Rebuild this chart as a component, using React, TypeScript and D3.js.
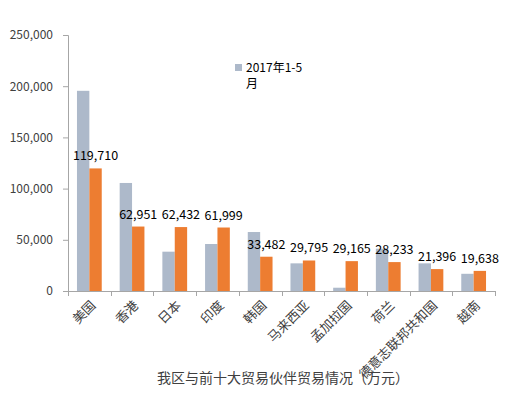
import React, { useRef, useEffect } from "react"
import * as d3 from "d3"

const categories = ["美国", "香港", "日本", "印度", "韩国", "马来西亚", "孟加拉国", "荷兰", "德意志联邦共和国", "越南"]
const series2017 = [195500, 105500, 38400, 45900, 57600, 27000, 3200, 41300, 27000, 16800]
const seriesOther = [119710, 62951, 62432, 61999, 33482, 29795, 29165, 28233, 21396, 19638]
const yTicks = [0, 50000, 100000, 150000, 200000, 250000]
const legendLabel = ["2017年1-5", "月"]
const title = "我区与前十大贸易伙伴贸易情况（万元）"

const W = 522
const H = 394
const FONT = "'Noto Sans CJK SC', 'Noto Sans', sans-serif"

const App: React.FunctionComponent = () => {
	const svgRef = useRef<any>()

	useEffect(() => {
		const svg = d3.select(svgRef.current)
		svg.selectAll("*").remove()

		const left = 68
		const right = 495
		const top = 35
		const bottom = 291

		const x0 = d3.scaleBand<string>().domain(categories).range([left, right]).padding(0)
		const bw = x0.bandwidth()
		const x1 = d3
			.scaleBand<string>()
			.domain(["a", "b"])
			.range([bw * 0.21, bw * 0.79])
			.padding(0)
		const y = d3.scaleLinear().domain([0, 250000]).range([bottom, top])

		// y axis
		const yAxis = d3
			.axisLeft(y)
			.tickValues(yTicks)
			.tickSize(5)
			.tickPadding(10)
			.tickFormat((d) => d3.format(",")(d as number))
		const gy = svg.append("g").attr("transform", `translate(${left},0)`).call(yAxis)
		gy.select(".domain").attr("stroke", "#a6a6a6")
		gy.selectAll(".tick line").attr("stroke", "#a6a6a6")
		gy.selectAll(".tick text")
			.attr("font-family", FONT)
			.attr("font-size", 12)
			.attr("fill", "#404040")

		// x axis
		const xTicks = d3.range(categories.length + 1).map((i) => left + i * bw)
		svg.append("line")
			.attr("x1", left)
			.attr("x2", right)
			.attr("y1", bottom + 0.5)
			.attr("y2", bottom + 0.5)
			.attr("stroke", "#a6a6a6")
		svg.selectAll(".xt")
			.data(xTicks)
			.join("line")
			.attr("x1", (d) => Math.round(d) + 0.5)
			.attr("x2", (d) => Math.round(d) + 0.5)
			.attr("y1", bottom)
			.attr("y2", bottom + 5)
			.attr("stroke", "#a6a6a6")

		// bars
		const g = svg.append("g")
		g.selectAll(".b1")
			.data(series2017)
			.join("rect")
			.attr("x", (d, i) => x0(categories[i])! + x1("a")!)
			.attr("y", (d) => y(d))
			.attr("width", x1.bandwidth())
			.attr("height", (d) => bottom - y(d))
			.attr("fill", "#adb9ca")
		g.selectAll(".b2")
			.data(seriesOther)
			.join("rect")
			.attr("x", (d, i) => x0(categories[i])! + x1("b")!)
			.attr("y", (d) => y(d))
			.attr("width", x1.bandwidth())
			.attr("height", (d) => bottom - y(d))
			.attr("fill", "#ed7d31")

		// value labels
		g.selectAll(".lbl")
			.data(seriesOther)
			.join("text")
			.attr("x", (d, i) => x0(categories[i])! + x1("b")! + x1.bandwidth() / 2)
			.attr("y", (d) => y(d) - 8)
			.attr("text-anchor", "middle")
			.attr("font-family", FONT)
			.attr("font-size", 12.5)
			.attr("fill", "#000")
			.text((d) => d3.format(",")(d))

		// category labels
		svg.selectAll(".cat")
			.data(categories)
			.join("text")
			.attr("transform", (d) => `translate(${x0(d)! + bw / 2 + 4},${bottom + 12}) rotate(-45)`)
			.attr("text-anchor", "end")
			.attr("dy", "0.35em")
			.attr("font-family", FONT)
			.attr("font-size", 13)
			.attr("fill", "#404040")
			.text((d) => d)

		// legend
		svg.append("rect").attr("x", 235).attr("y", 64).attr("width", 7).attr("height", 7).attr("fill", "#adb9ca")
		svg.selectAll(".leg")
			.data(legendLabel)
			.join("text")
			.attr("x", 246)
			.attr("y", (d, i) => 72 + i * 16)
			.attr("font-family", FONT)
			.attr("font-size", 12)
			.attr("fill", "#000")
			.text((d) => d)

		// title
		svg.append("text")
			.attr("x", 283)
			.attr("y", 383)
			.attr("text-anchor", "middle")
			.attr("font-family", FONT)
			.attr("font-size", 14)
			.attr("fill", "#404040")
			.text(title)
	}, [])

	return (
		<div style={{ position: "absolute", left: 0, top: 0, width: W, height: H, background: "#fff" }}>
			<svg ref={svgRef} width={W} height={H}></svg>
		</div>
	)
}

export default App
